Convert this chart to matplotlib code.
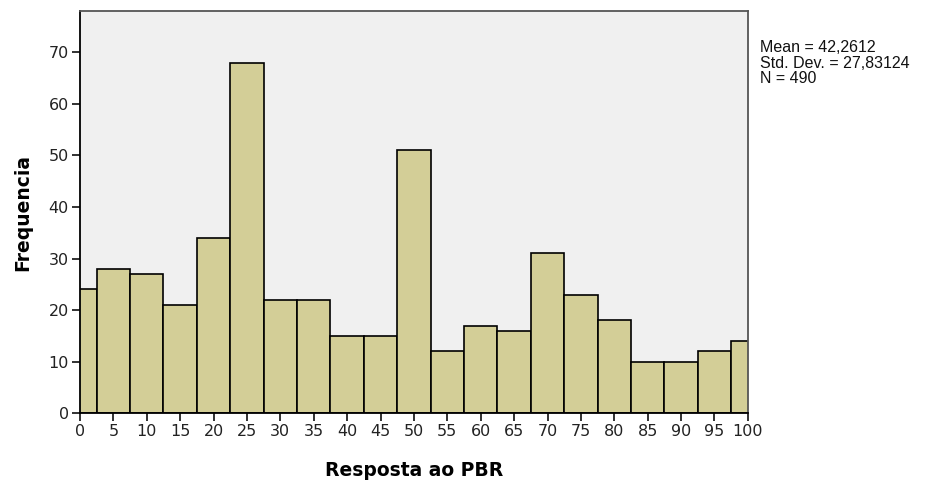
import numpy as np
import matplotlib
matplotlib.use('Agg')
import matplotlib.pyplot as plt

plt.rcParams['font.family'] = ['DejaVu Sans']

# bin centres and counts
centres = [0, 5, 10, 15, 20, 25, 30, 35, 40, 45, 50, 55, 60, 65, 70, 75, 80, 85, 90, 95, 100]
counts = [24, 28, 27, 21, 34, 68, 22, 22, 15, 15, 51, 12, 17, 16, 31, 23, 18, 10, 10, 12, 14]
stats_text = ['Mean = 42,2612', 'Std. Dev. = 27,83124', 'N = 490']

fig = plt.figure(figsize=(9.25, 4.86), dpi=100)
ax = fig.add_axes([0.0865, 0.150, 0.722, 0.827])
ax.set_facecolor('#F0F0F0')

ax.bar(centres, counts, width=5, color='#D3CE97', edgecolor='black', linewidth=1.2, zorder=2)

ax.set_xlim(0, 100)
ax.set_ylim(0, 78)
ax.set_xticks(np.arange(0, 101, 5))
ax.set_yticks(np.arange(0, 71, 10))
ax.tick_params(direction='out', length=6, width=1.3, labelsize=11.5, colors='#222222', pad=2)

for side in ['left', 'bottom']:
    ax.spines[side].set_color('black')
    ax.spines[side].set_linewidth(1.3)
for side in ['top', 'right']:
    ax.spines[side].set_color('#555555')
    ax.spines[side].set_linewidth(1.3)

ax.set_xlabel('Resposta ao PBR', fontsize=13.5, fontweight='bold', labelpad=16)
ax.set_ylabel('Frequencia', fontsize=13.5, fontweight='bold', labelpad=12)

fig.text(760 / 925, 1 - 40 / 486, '\n'.join(stats_text), fontsize=11.5, va='top', ha='left',
         linespacing=1.05, color='#111111', family='Liberation Sans')

plt.savefig('out.png', dpi=100)
plt.close()
